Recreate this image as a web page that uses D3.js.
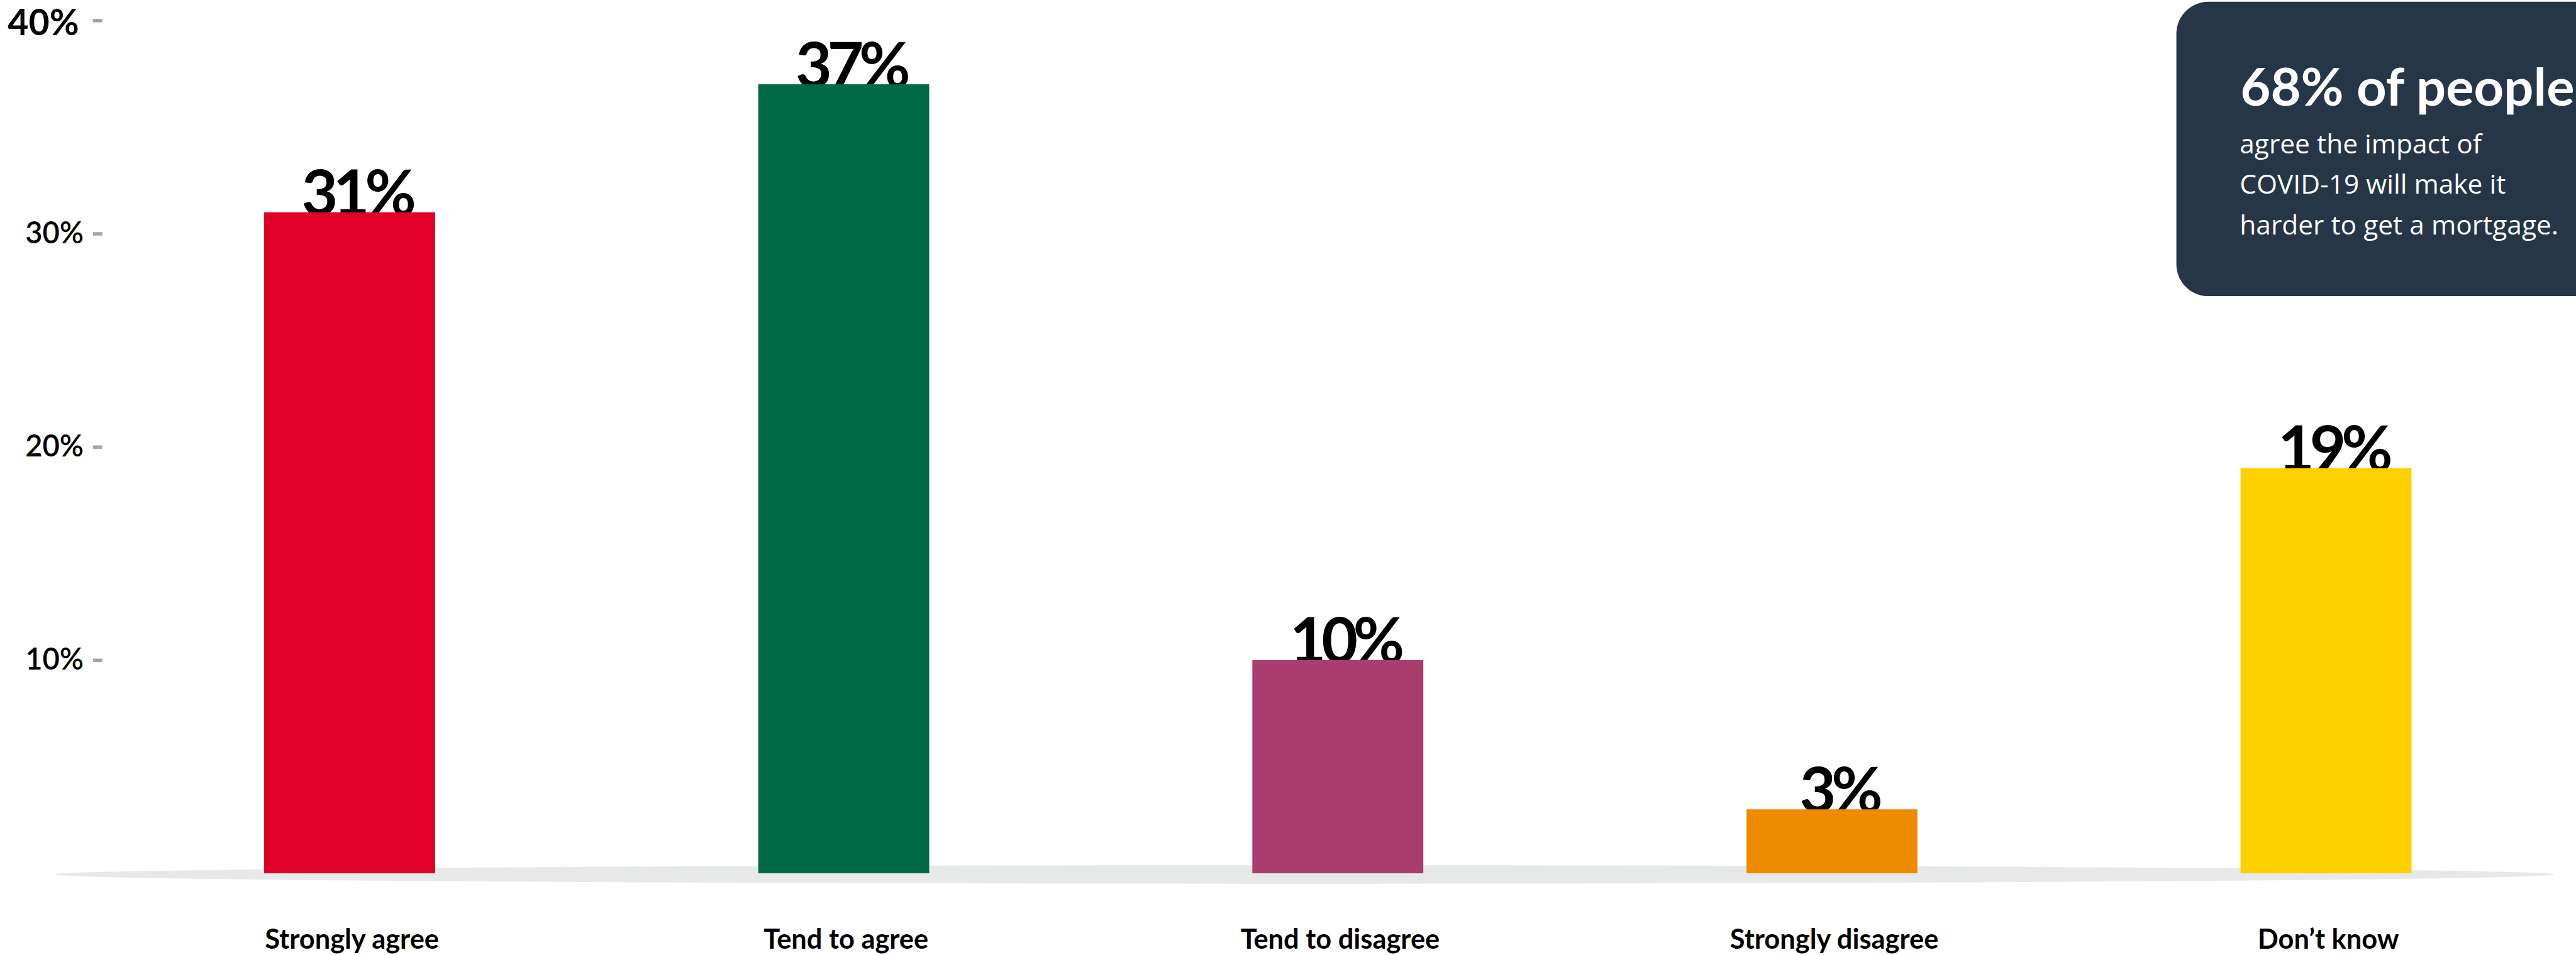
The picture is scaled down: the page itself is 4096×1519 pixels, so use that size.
<!DOCTYPE html>
<html>
<head>
<meta charset="utf-8">
<script src="https://cdn.jsdelivr.net/npm/d3@7"></script>
<style>
  html, body { margin: 0; padding: 0; background: #ffffff; overflow: hidden; }
  svg { display: block; }
</style>
</head>
<body>
<svg id="chart"></svg>
<script>
// Survey answers: impact of COVID-19 on getting a mortgage
const categories = ["Strongly agree", "Tend to agree", "Tend to disagree", "Strongly disagree", "Don’t know"];
const values = [31, 37, 10, 3, 19];
const yTicks = [10, 20, 30, 40];

const calloutTitle = "68% of people";
const calloutLines = ["agree the impact of", "COVID-19 will make it", "harder to get a mortgage."];

// Bar colours, one per answer
const palette = ["#E10027", "#006946", "#A93D6E", "#EC8A00", "#FED000"];

const W = 4096, H = 1519;
const k = W / 4435; // drawing is laid out on a 4435-wide canvas and scaled down

const svg = d3.select("#chart").attr("width", W).attr("height", H);
const g = svg.append("g").attr("transform", `scale(${k})`);

const x = d3.scaleBand()
  .domain(categories)
  .range([176.6, 4430])
  .paddingInner(0.654)
  .paddingOuter(0.327);

const y = d3.scaleLinear().domain([0, 40]).range([1504, 35]);

// Floor shadow under the bars
g.append("ellipse")
  .attr("cx", 2246).attr("cy", 1506)
  .attr("rx", 2153).attr("ry", 16)
  .attr("fill", "#E7E9E8");

// Y axis: short grey dashes, no domain line
const yAxis = g.append("g")
  .attr("transform", "translate(176,0)")
  .call(d3.axisLeft(y).tickValues(yTicks).tickSize(16).tickPadding(16).tickFormat(d => d + "%"));
yAxis.select(".domain").remove();
yAxis.selectAll(".tick line").attr("stroke", "#A6A6A6").attr("stroke-width", 6);
yAxis.selectAll(".tick text")
  .attr("fill", "#000")
  .style("font-family", "Lato, sans-serif")
  .style("font-weight", 600)
  .style("font-size", "51px");
yAxis.selectAll(".tick")
  .filter(d => d === d3.max(yTicks))
  .select("text")
  .attr("dx", -8)
  .attr("dy", "0.4em")
  .style("font-weight", 700)
  .style("font-size", "62px");

// Value labels sit on the bar tops (bars are drawn over their feet)
g.append("g").selectAll("text")
  .data(values)
  .join("text")
  .attr("x", (d, i) => x(categories[i]) + x.bandwidth() / 2 + 12)
  .attr("y", d => y(d) + 5)
  .attr("text-anchor", "middle")
  .style("font-family", "Lato, sans-serif")
  .style("font-weight", 700)
  .style("font-size", "108px")
  .style("letter-spacing", "-8px")
  .attr("fill", "#000")
  .text(d => d + "%");

// Bars
g.append("g").selectAll("rect")
  .data(values)
  .join("rect")
  .attr("x", (d, i) => x(categories[i]))
  .attr("y", d => y(d))
  .attr("width", x.bandwidth())
  .attr("height", d => y(0) - y(d))
  .attr("fill", (d, i) => palette[i]);

// Category labels
g.append("g").selectAll("text")
  .data(categories)
  .join("text")
  .attr("x", d => x(d) + x.bandwidth() / 2 + 4)
  .attr("y", 1634)
  .attr("text-anchor", "middle")
  .style("font-family", "Lato, sans-serif")
  .style("font-weight", 700)
  .style("font-size", "47px")
  .attr("fill", "#000")
  .text(d => d);

// Call-out panel in the top-right corner
const box = g.append("g");
box.append("rect")
  .attr("x", 3747).attr("y", 3)
  .attr("width", 900).attr("height", 507)
  .attr("rx", 55)
  .attr("fill", "#263647");
box.append("text")
  .attr("x", 3857).attr("y", 182)
  .style("font-family", "Lato, sans-serif")
  .style("font-weight", 700)
  .style("font-size", "90px")
  .attr("fill", "#fff")
  .text(calloutTitle);
box.append("g").selectAll("text")
  .data(calloutLines)
  .join("text")
  .attr("x", 3856)
  .attr("y", (d, i) => 264 + i * 70)
  .style("font-family", "'Open Sans', sans-serif")
  .style("font-weight", 400)
  .style("font-size", "46px")
  .attr("fill", "#fff")
  .text(d => d);
</script>
</body>
</html>
